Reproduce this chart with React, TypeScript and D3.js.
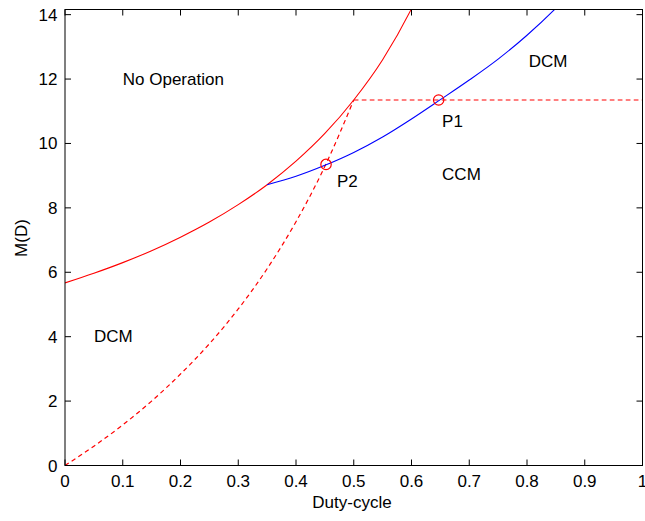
import React from "react";
import * as d3 from "d3";

// ---- Data ----
const xTickValues = [0, 0.1, 0.2, 0.3, 0.4, 0.5, 0.6, 0.7, 0.8, 0.9, 1];
const xTickLabels = ["0", "0.1", "0.2", "0.3", "0.4", "0.5", "0.6", "0.7", "0.8", "0.9", "1"];
const yTickValues = [0, 2, 4, 6, 8, 10, 12, 14];
const yTickLabels = ["0", "2", "4", "6", "8", "10", "12", "14"];

// solid red boundary (No Operation / DCM)
const boundaryD = [0, 0.05, 0.1, 0.15, 0.2, 0.25, 0.3, 0.35, 0.4, 0.45, 0.5, 0.55, 0.6, 0.61];
const boundaryM = [5.67, 5.97, 6.3, 6.67, 7.09, 7.56, 8.1, 8.72, 9.45, 10.31, 11.35, 12.6, 14.18, 14.54];

// dashed red curve from origin
const dashD = [0, 0.05, 0.1, 0.15, 0.2, 0.25, 0.3, 0.35, 0.4, 0.45, 0.5];
const dashM = [0, 0.6, 1.26, 2.0, 2.84, 3.78, 4.86, 6.11, 7.57, 9.29, 11.35];

// dashed horizontal line
const hLineD = [0.5, 1];
const hLineM = [11.35, 11.35];

// blue CCM/DCM boundary
const blueD = [0.35, 0.4, 0.45, 0.5, 0.55, 0.6, 0.65, 0.7, 0.75, 0.8, 0.85, 0.86];
const blueM = [8.72, 8.98, 9.32, 9.72, 10.2, 10.76, 11.36, 11.97, 12.62, 13.36, 14.2, 14.38];

// operating points
const pointD = [0.647, 0.452];
const pointM = [11.35, 9.35];

// text annotations (data coordinates, left aligned, vertically centred)
const noteText = ["No Operation", "DCM", "CCM", "DCM", "P1", "P2"];
const noteD = [0.1, 0.803, 0.653, 0.05, 0.653, 0.471];
const noteM = [12.0, 12.55, 9.04, 4.02, 10.7, 8.82];

const W = 645;
const H = 521;
const FONT = "'Liberation Sans', Arial, Helvetica, sans-serif";

export default function App() {
  const left = 65, right = 642.5, top = 9.5, bottom = 465.5;
  const x = d3.scaleLinear().domain([0, 1]).range([left, right]);
  const y = d3.scaleLinear().domain([0, 14.16]).range([bottom, top]);

  const line = d3
    .line<[number, number]>()
    .x((d) => x(d[0]))
    .y((d) => y(d[1]))
    .curve(d3.curveMonotoneX);

  const zip = (a: number[], b: number[]) => a.map((v, i) => [v, b[i]] as [number, number]);

  const tickLen = 6;
  const fs = 17;

  return (
    <div style={{ position: "absolute", left: 0, top: 0 }}>
      <svg width={W} height={H} style={{ display: "block", background: "#fff" }} fontFamily={FONT}>
        <defs>
          <clipPath id="plotClip">
            <rect x={left} y={top} width={right - left} height={bottom - top} />
          </clipPath>
        </defs>
        <rect x={0} y={0} width={W} height={H} fill="#fff" />

        <g clipPath="url(#plotClip)" fill="none">
          <path d={line(zip(boundaryD, boundaryM)) || ""} stroke="#ff0000" strokeWidth={1.1} />
          <path d={line(zip(dashD, dashM)) || ""} stroke="#ff0000" strokeWidth={1.2} strokeDasharray="4.5,3.5" />
          <path d={line(zip(hLineD, hLineM)) || ""} stroke="#ff0000" strokeWidth={1.2} strokeDasharray="4.7,3.3" />
          <path d={line(zip(blueD, blueM)) || ""} stroke="#0000ff" strokeWidth={1.1} />
          {pointD.map((d, i) => (
            <circle key={i} cx={x(d)} cy={y(pointM[i])} r={5.2} stroke="#ff0000" strokeWidth={1.2} />
          ))}
        </g>

        {/* axes box */}
        <rect x={left} y={top} width={right - left} height={bottom - top} fill="none" stroke="#000" strokeWidth={1} />

        {/* x ticks */}
        {xTickValues.map((v, i) => (
          <g key={"x" + i}>
            <line x1={x(v)} x2={x(v)} y1={bottom} y2={bottom - tickLen} stroke="#000" />
            <line x1={x(v)} x2={x(v)} y1={top} y2={top + tickLen} stroke="#000" />
            <text x={x(v)} y={487} fontSize={fs} textAnchor="middle" fill="#000">
              {xTickLabels[i]}
            </text>
          </g>
        ))}

        {/* y ticks */}
        {yTickValues.map((v, i) => (
          <g key={"y" + i}>
            <line x1={left} x2={left + tickLen} y1={y(v)} y2={y(v)} stroke="#000" />
            <line x1={right} x2={right - tickLen} y1={y(v)} y2={y(v)} stroke="#000" />
            <text x={57.5} y={y(v) + 6} fontSize={fs} textAnchor="end" fill="#000">
              {yTickLabels[i]}
            </text>
          </g>
        ))}

        {/* annotations */}
        {noteText.map((t, i) => (
          <text key={"n" + i} x={x(noteD[i])} y={y(noteM[i]) + 6} fontSize={fs} fill="#000">
            {t}
          </text>
        ))}

        {/* axis labels */}
        <text x={352} y={508} fontSize={fs} textAnchor="middle" fill="#000">
          Duty-cycle
        </text>
        <text transform="translate(27,238) rotate(-90)" fontSize={fs} textAnchor="middle" fill="#000">
          M(D)
        </text>
      </svg>
    </div>
  );
}
